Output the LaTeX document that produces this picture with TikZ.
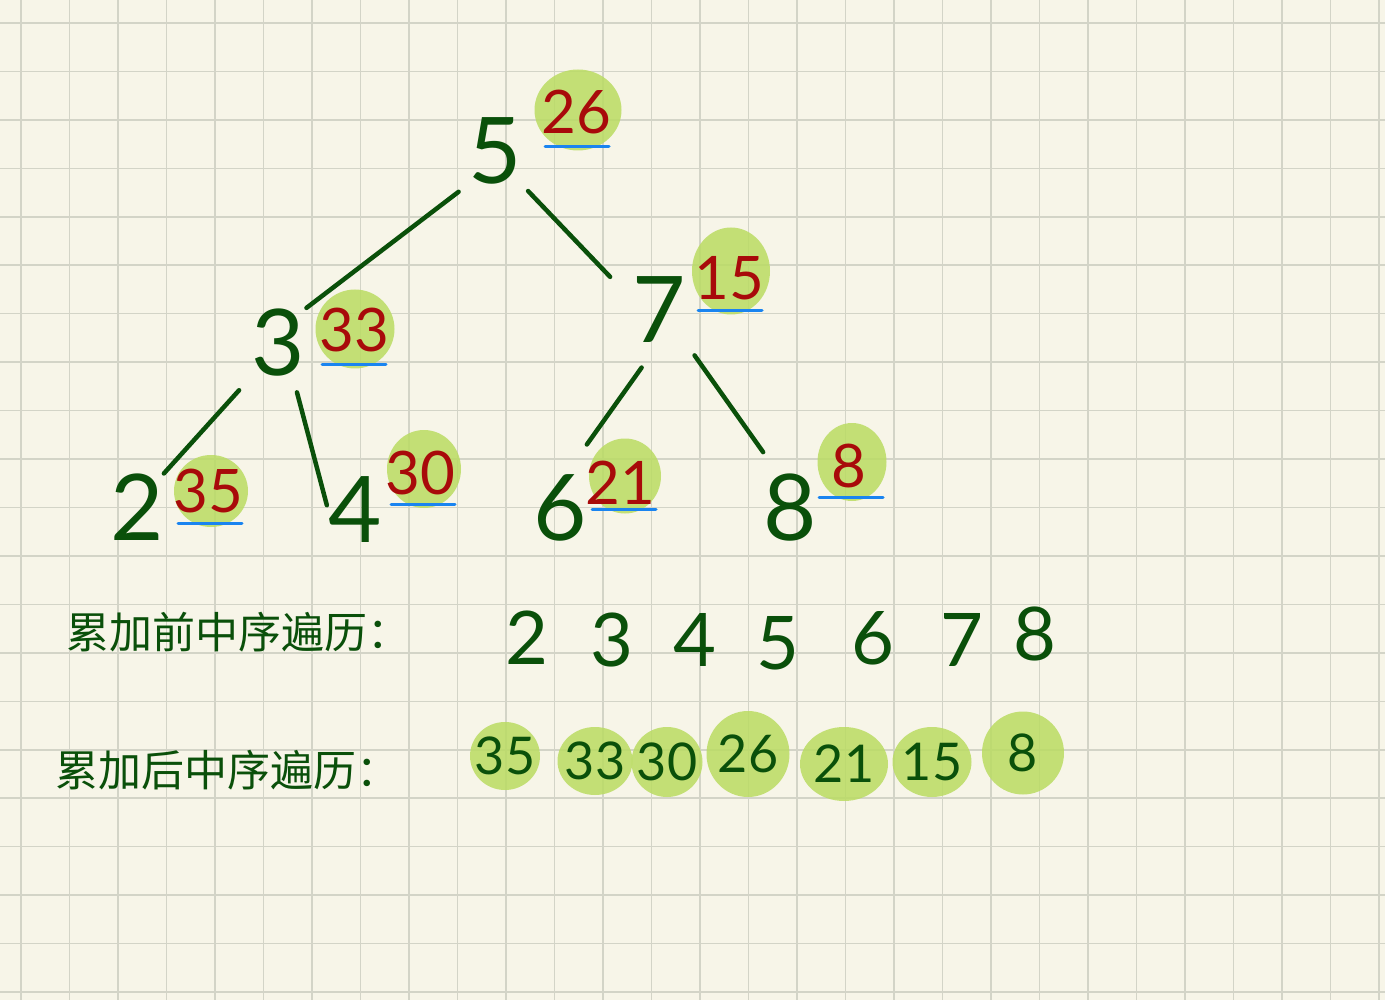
\documentclass[tikz,border=0pt]{standalone}
\usepackage{fontspec}
\setmainfont{Lato}
\newfontfamily\cjk{Noto Sans CJK SC}
\usetikzlibrary{shapes.geometric}

\definecolor{paperbg}{HTML}{F7F5E8}
\definecolor{gridgray}{HTML}{D3D4C7}
\definecolor{inkgreen}{HTML}{0A500A}
\definecolor{inkred}{HTML}{A80A0A}
\definecolor{blobgreen}{HTML}{BADC62}
\definecolor{penblue}{HTML}{1A84F0}

\begin{document}
\begin{tikzpicture}[%
    x=1pt,
    y=-1pt,
    paper/.style={gridgray, line width=1.6pt},
    digit/.style={%
      inner sep=0pt,
      text=inkgreen,
      font=\fontsize{92}{92}\selectfont
    },
    branch/.style={draw=inkgreen, line width=4.5pt, line cap=round},
    blob/.style={%
      ellipse,
      inner sep=0pt,
      fill=blobgreen,
      fill opacity=0.85,
      minimum width=76pt,
      minimum height=78pt
    },
    acc/.style={inner sep=0pt, text=inkred, font=\fontsize{60}{60}\selectfont},
    uline/.style={draw=penblue, line width=3pt, line cap=round},
    rowdigit/.style={inner sep=0pt, text=inkgreen, font=\fontsize{74}{74}\selectfont},
    rowacc/.style={inner sep=0pt, text=inkgreen, font=\fontsize{52}{52}\selectfont},
    caption/.style={%
      anchor=west,
      inner sep=0pt,
      text=inkgreen,
      font=\cjk\fontsize{43}{43}\selectfont
    }
  ]
    % squared paper
    \fill[paperbg] (0,0) rectangle (1385,1000);
    \useasboundingbox (0,0) rectangle (1385,1000);
    \foreach \i in {0,...,28}
      \draw[paper] ({21+48.5*\i},0) -- ++(0,1000);
    \foreach \j in {0,...,20}
      \draw[paper] (0,{23+48.45*\j}) -- ++(1385,0);

    % tree keys
    \node[digit] (n5) at (495,151) {5};
    \node[digit] (n3) at (278,343) {3};
    \node[digit] (n7) at (659,310) {7};
    \node[digit] (n2) at (137,507) {2};
    \node[digit] (n4) at (355,510) {4};
    \node[digit] (n6) at (560,508) {6};
    \node[digit] (n8) at (790,508) {8};

    \path[branch] (n5.south west) edge[shorten <=12pt, shorten >=2pt] (n3.north east)
          (n5.south east) edge[shorten <=9pt] ([xshift=-22pt]n7.north west)
          (n3.south west) edge[shorten <=18pt] (n2.north east)
          ([xshift=-12pt]n3.south east) edge[shorten <=16pt, shorten >=5pt] (n4.west)
          (n7.south) edge[shorten <=30pt] ([yshift=30pt]n6.north east)
          (n7.south east) edge[shorten <=15pt] ([yshift=22pt]n8.north west);

    % accumulated sums
    \node[blob, minimum width=87pt, minimum height=81pt] (b5) at (578,110) {};
    \node[blob, minimum width=79pt, minimum height=79pt] (b3) at (355,329) {};
    \node[blob, minimum width=78pt, minimum height=87pt] (b7) at (731,271) {};
    \node[blob, minimum width=74pt, minimum height=72pt] (b2) at (211,491) {};
    \node[blob, minimum width=74pt, minimum height=78pt] (b4) at (424,469) {};
    \node[blob, minimum width=72pt, minimum height=75pt] (b6) at (625,476) {};
    \node[blob, minimum width=69pt, minimum height=78pt] (b8) at (852,462) {};

    \node[acc] (s5) at (576,112) {26};
    \node[acc] (s3) at (354,330) {33};
    \node[acc] (s7) at (729,278) {15};
    \node[acc] (s2) at (208,491) {35};
    \node[acc] (s4) at (420,473) {30};
    \node[acc] (s6) at (620,483) {21};
    \node[acc] (s8) at (849,466) {8};

    \foreach \b in {b5,b3,b7,b2,b4,b6,b8}
      \draw[uline] ([shift={(-33pt,4pt)}]\b.south) -- ++(64,0);

    % in-order before accumulation
    \node[caption] (before) at (66,632) {累加前中序遍历：};
    \foreach \x/\y/\v [count=\k] in {527/638/2, 612/640/3, 695/640/4, 778/643/5,
                                     873/638/6, 962/640/7, 1035/634/8}
      \node[rowdigit] (a\k) at (\x,\y) {\v};

    % in-order after accumulation
    \node[caption] (after) at (55,770) {累加后中序遍历：};
    \foreach \x/\y/\w/\h [count=\k] in {505/756/70/68, 595/761/75/68, 667/762/71/70,
                                        748/754/83/86, 844/764/88/74, 932/762/79/70,
                                        1023/753/82/83}
      \node[blob, minimum width=\w pt, minimum height=\h pt] (c\k) at (\x,\y) {};
    \foreach \v [count=\k] in {35,33,30,26,21,15,8}
      \node[rowacc] (r\k) at (c\k) {\v};
\end{tikzpicture}
\end{document}
